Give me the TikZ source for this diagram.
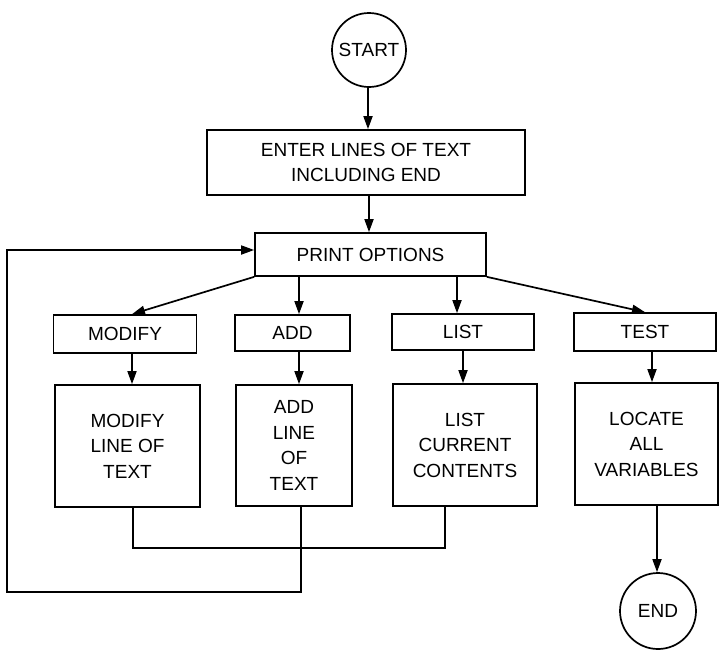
\documentclass[tikz,border=0pt]{standalone}
\usepackage{fontspec}
\setmainfont{Liberation Sans}
\usetikzlibrary{arrows.meta,calc}
\begin{document}
\begin{tikzpicture}[x=1pt,y=-1pt,
  every node/.style={font=\fontsize{19}{25.5}\selectfont, inner sep=0pt, align=center},
  box/.style={draw, line width=1.7pt, rectangle},
  term/.style={draw, line width=1.7pt, circle},
  conn/.style={line width=1.7pt},
  arr/.style={line width=1.7pt, -{Triangle[length=13pt,width=9pt]}}]
\useasboundingbox[fill=white] (0,0) rectangle (722,651);

\node[term, minimum size=74pt] (start) at (369,50) {START};
\node[box, minimum width=318pt, minimum height=65pt] (enter) at (366,162.5) {ENTER LINES OF TEXT\\INCLUDING END};
\node[box, minimum width=231pt, minimum height=43pt] (print) at (370.5,254.5) {PRINT OPTIONS};

\node[box, minimum width=143pt, minimum height=38pt] (modify) at (125,334) {MODIFY};
\node[box, minimum width=115pt, minimum height=36pt] (add) at (292.5,333) {ADD};
\node[box, minimum width=142pt, minimum height=36pt] (list) at (463,332) {LIST};
\node[box, minimum width=142pt, minimum height=38pt] (test) at (645,332) {TEST};

\node[box, minimum width=145pt, minimum height=122pt] (modline) at (127.5,446) {MODIFY\\LINE OF\\TEXT};
\node[box, minimum width=116pt, minimum height=121pt] (addline) at (294,445.5) {ADD\\LINE\\OF\\TEXT};
\node[box, minimum width=144pt, minimum height=122pt] (listline) at (465,445) {LIST\\CURRENT\\CONTENTS};
\node[box, minimum width=143pt, minimum height=122pt] (locate) at (646.5,444) {LOCATE\\ALL\\VARIABLES};

\node[term, minimum size=76pt] (end) at (658,611) {END};

% guide coordinates for connector columns
\coordinate (xs) at (368,0);
\coordinate (xp) at (369,0);
\coordinate (xm) at (132,0);
\coordinate (xa) at (299,0);
\coordinate (xl) at (457,0);
\coordinate (xll) at (463,0);
\coordinate (xt) at (652,0);
\coordinate (xe) at (657,0);
\coordinate (xmb) at (133,0);
\coordinate (xab) at (301,0);
\coordinate (xlb) at (445,0);
\coordinate (loopA) at (0,548);
\coordinate (loopB) at (0,592);
\coordinate (xleft) at (7,0);
\coordinate (yfb) at (0,250);

\draw[arr] (start.south -| xs) -- (enter.north -| xs);
\draw[arr] (enter.south -| xp) -- (print.north -| xp);

\draw[arr] (print.south west) -- (modify.north -| xm);
\draw[arr] (print.south -| xa) -- (add.north -| xa);
\draw[arr] (print.south -| xl) -- (list.north -| xl);
\draw[arr] (print.south east) -- (test.north);

\draw[arr] (modify.south -| xm) -- (modline.north -| xm);
\draw[arr] (add.south -| xa) -- (addline.north -| xa);
\draw[arr] (list.south -| xll) -- (listline.north -| xll);
\draw[arr] (test.south -| xt) -- (locate.north -| xt);

\draw[conn] (modline.south -| xmb) -- (xmb |- loopA) -- (xlb |- loopA) -- (listline.south -| xlb);
\draw[arr] (addline.south -| xab) -- (xab |- loopB) -- (xleft |- loopB) -- (xleft |- yfb) -- (print.west |- yfb);

\draw[arr] (locate.south -| xe) -- (end.north -| xe);
\end{tikzpicture}
\end{document}
